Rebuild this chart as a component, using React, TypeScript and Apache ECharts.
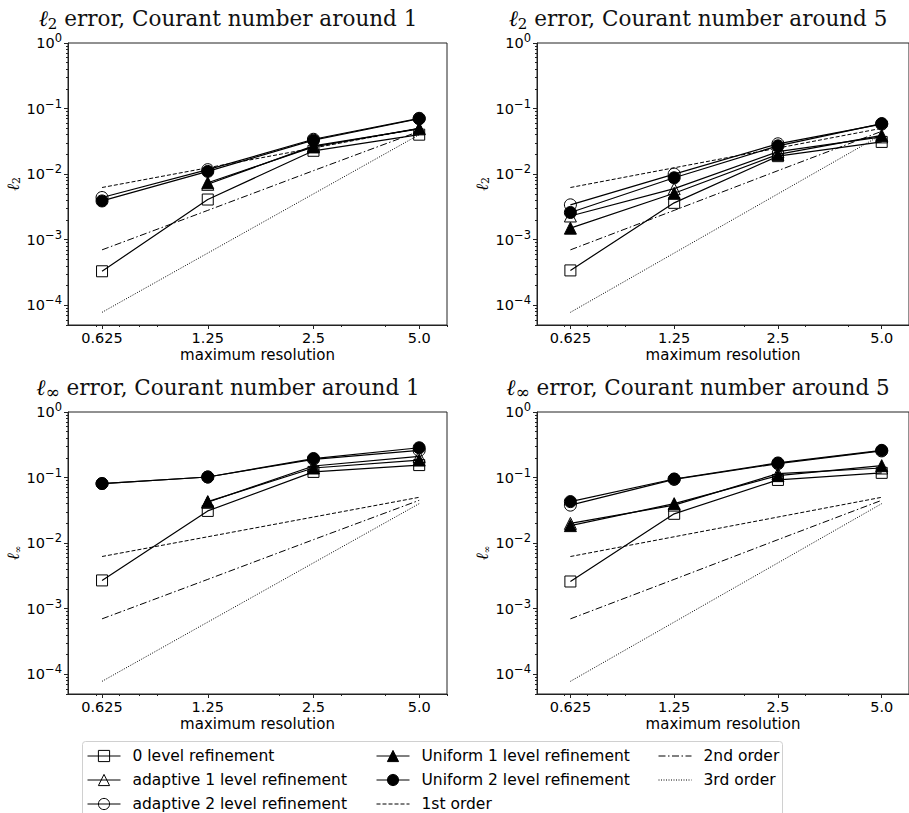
import React, { useEffect, useRef } from 'react';
import * as echarts from 'echarts';

// ---------- data ----------
const resolutions = [0.625, 1.25, 2.5, 5.0];
const xTickLabels = ['0.625', '1.25', '2.5', '5.0'];
const xMinorTicks = [0.6, 0.7, 0.8, 0.9, 2, 3, 4, 6];
const yTickValues = [1e-4, 1e-3, 1e-2, 1e-1, 1];
const yTickExponents = ['−4', '−3', '−2', '−1', '0'];

const methodNames = [
  '0 level refinement',
  'adaptive 1 level refinement',
  'adaptive 2 level refinement',
  'Uniform 1 level refinement',
  'Uniform 2 level refinement',
];
const refNames = ['1st order', '2nd order', '3rd order'];

// l2 error, Courant ~1
const l2C1Level0 = [3.3e-4, 4.1e-3, 0.0227, 0.040];
const l2C1Adapt1 = [null, 7.0e-3, 0.027, 0.049];
const l2C1Adapt2 = [4.4e-3, 1.17e-2, 0.034, 0.071];
const l2C1Unif1 = [null, 7.4e-3, 0.026, 0.050];
const l2C1Unif2 = [3.9e-3, 1.1e-2, 0.033, 0.070];

// l2 error, Courant ~5
const l2C5Level0 = [3.4e-4, 3.65e-3, 0.0188, 0.031];
const l2C5Adapt1 = [2.3e-3, 6.0e-3, 0.022, 0.037];
const l2C5Adapt2 = [3.4e-3, 1.0e-2, 0.029, 0.058];
const l2C5Unif1 = [1.5e-3, 5.1e-3, 0.020, 0.039];
const l2C5Unif2 = [2.6e-3, 8.8e-3, 0.027, 0.059];

// linf error, Courant ~1
const liC1Level0 = [2.7e-3, 0.031, 0.122, 0.155];
const liC1Adapt1 = [null, 0.042, 0.15, 0.21];
const liC1Adapt2 = [0.081, 0.102, 0.19, 0.26];
const liC1Unif1 = [null, 0.043, 0.14, 0.185];
const liC1Unif2 = [0.081, 0.102, 0.195, 0.285];

// linf error, Courant ~5
const liC5Level0 = [2.6e-3, 0.028, 0.092, 0.118];
const liC5Adapt1 = [0.020, 0.038, 0.115, 0.14];
const liC5Adapt2 = [0.038, 0.094, 0.163, 0.255];
const liC5Unif1 = [0.0185, 0.040, 0.107, 0.152];
const liC5Unif2 = [0.043, 0.095, 0.167, 0.26];

// reference slopes
const order1 = [0.00625, 0.0125, 0.025, 0.05];
const order2 = [0.0007, 0.0028, 0.0113, 0.045];
const order3 = [0.000078, 0.000625, 0.005, 0.04];

const panelData = [
  [l2C1Level0, l2C1Adapt1, l2C1Adapt2, l2C1Unif1, l2C1Unif2],
  [l2C5Level0, l2C5Adapt1, l2C5Adapt2, l2C5Unif1, l2C5Unif2],
  [liC1Level0, liC1Adapt1, liC1Adapt2, liC1Unif1, liC1Unif2],
  [liC5Level0, liC5Adapt1, liC5Adapt2, liC5Unif1, liC5Unif2],
];
const refData = [order1, order2, order3];

const panelNorm = ['2', '2', '∞', '∞'];
const panelTitleRest = [
  ' error, Courant number around 1',
  ' error, Courant number around 5',
  ' error, Courant number around 1',
  ' error, Courant number around 5',
];

// legend columns (matplotlib fills column by column)
const legendColumns = [
  [methodNames[0], methodNames[1], methodNames[2]],
  [methodNames[3], methodNames[4], refNames[0]],
  [refNames[1], refNames[2]],
];

// ---------- layout / style ----------
const grids = [
  { left: 68, top: 43, width: 379, height: 282 },
  { left: 537, top: 43, width: 380, height: 282 },
  { left: 68, top: 412, width: 379, height: 282 },
  { left: 537, top: 412, width: 380, height: 282 },
];
const titlePos = [
  [228, 18],
  [698, 18],
  [228, 387],
  [698, 387],
];
const legendLefts = [87, 376, 658];
const methodStyles = [
  { symbol: 'rect', size: 11, filled: false },
  { symbol: 'triangle', size: 12, filled: false },
  { symbol: 'circle', size: 12, filled: false },
  { symbol: 'triangle', size: 12, filled: true },
  { symbol: 'circle', size: 12, filled: true },
];
const refDash = [[4, 2], [7, 2.5, 1.5, 2.5], [1, 1.5]];

const yMinor: number[] = [];
for (let e = -5; e < 0; e++) {
  for (let m = 2; m <= 9; m++) {
    const v = m * Math.pow(10, e);
    if (v >= 5e-5 && v < 1) yMinor.push(v);
  }
}

const SPINE = '#222';
const SANS = 'DejaVu Sans';

function nearestIndex(v: number, values: number[]) {
  let best = 0;
  let bd = Infinity;
  values.forEach((x, i) => {
    const d = Math.abs(Math.log(x) - Math.log(v));
    if (d < bd) {
      bd = d;
      best = i;
    }
  });
  return best;
}

function buildOption() {
  const xAxis: any[] = [];
  const yAxis: any[] = [];
  const series: any[] = [];
  const graphic: any[] = [];

  grids.forEach((g, p) => {
    xAxis.push({
      type: 'log',
      logBase: 2,
      gridIndex: p,
      min: 0.5,
      max: 6,
      position: 'bottom',
      name: 'maximum resolution',
      nameLocation: 'middle',
      nameGap: 22,
      nameTextStyle: { fontFamily: SANS, fontSize: 15, color: '#000', verticalAlign: 'top', lineHeight: 15 },
      axisLine: { show: true, lineStyle: { color: SPINE, width: 1 } },
      axisTick: { show: true, inside: false, length: 4, customValues: resolutions, lineStyle: { color: SPINE } },
      axisLabel: {
        show: true,
        margin: 6,
        customValues: resolutions,
        fontFamily: SANS,
        fontSize: 14.5,
        lineHeight: 14,
        color: '#000',
        formatter: (v: number) => xTickLabels[nearestIndex(v, resolutions)],
      },
      splitLine: { show: false },
      minorTick: { show: false },
    });
    xAxis.push({
      type: 'log',
      logBase: 2,
      gridIndex: p,
      min: 0.5,
      max: 6,
      position: 'bottom',
      axisLine: { show: false },
      axisTick: { show: true, inside: false, length: 2, customValues: xMinorTicks, lineStyle: { color: SPINE } },
      axisLabel: { show: false },
      splitLine: { show: false },
    });
    yAxis.push({
      type: 'log',
      logBase: 10,
      gridIndex: p,
      min: 5e-5,
      max: 1,
      position: 'left',
      name: '{l|ℓ}{s|' + panelNorm[p] + '}',
      nameLocation: 'middle',
      nameGap: 46,
      nameRotate: 90,
      nameTextStyle: {
        color: '#000',
        rich: {
          l: { fontFamily: 'DejaVu Serif', fontStyle: 'italic', fontSize: 17, color: '#000', lineHeight: 18 },
          s: { fontFamily: 'DejaVu Serif', fontSize: panelNorm[p] === '2' ? 11 : 9, color: '#000', verticalAlign: 'bottom', lineHeight: 10 },
        },
      },
      axisLine: { show: true, lineStyle: { color: SPINE, width: 1 } },
      axisTick: { show: true, inside: false, length: 4, customValues: yTickValues, lineStyle: { color: SPINE } },
      axisLabel: {
        show: true,
        margin: 6,
        customValues: yTickValues,
        color: '#000',
        formatter: (v: number) => '{b|10}{s|' + yTickExponents[nearestIndex(v, yTickValues)] + '}',
        rich: {
          b: { fontFamily: SANS, fontSize: 14.5, color: '#000', lineHeight: 22 },
          s: { fontFamily: SANS, fontSize: 11.5, color: '#000', verticalAlign: 'top', lineHeight: 11 },
        },
      },
      splitLine: { show: false },
    });
    yAxis.push({
      type: 'log',
      logBase: 10,
      gridIndex: p,
      min: 5e-5,
      max: 1,
      position: 'left',
      axisLine: { show: false },
      axisTick: { show: true, inside: false, length: 2, customValues: yMinor, lineStyle: { color: SPINE } },
      axisLabel: { show: false },
      splitLine: { show: false },
    });

    panelData[p].forEach((arr, k) => {
      const st = methodStyles[k];
      const data = resolutions
        .map((h, i) => (arr[i] == null ? null : [h, arr[i]]))
        .filter((d) => d != null);
      series.push({
        type: 'line',
        name: methodNames[k],
        xAxisIndex: 2 * p,
        yAxisIndex: 2 * p,
        data,
        symbol: st.symbol,
        symbolSize: st.size,
        showAllSymbol: true,
        silent: true,
        emphasis: { disabled: true },
        lineStyle: { color: '#000', width: 1.2 },
        itemStyle: {
          color: st.filled ? '#000' : 'transparent',
          borderColor: '#000',
          borderWidth: 1,
        },
      });
    });
    refData.forEach((arr, k) => {
      series.push({
        type: 'line',
        name: refNames[k],
        xAxisIndex: 2 * p,
        yAxisIndex: 2 * p,
        data: resolutions.map((h, i) => [h, arr[i]]),
        symbol: 'none',
        silent: true,
        emphasis: { disabled: true },
        lineStyle: { color: '#000', width: 1, type: refDash[k] },
        itemStyle: { color: 'transparent', borderColor: 'transparent', borderWidth: 0 },
      });
    });

    graphic.push({
      type: 'text',
      x: titlePos[p][0],
      y: titlePos[p][1],
      silent: true,
      style: {
        text: '{l|ℓ}{s|' + panelNorm[p] + '}{t|' + panelTitleRest[p] + '}',
        align: 'center',
        verticalAlign: 'middle',
        rich: {
          l: { fontFamily: 'DejaVu Serif', fontStyle: 'italic', fontSize: 22, fill: '#000', lineHeight: 26 },
          s: { fontFamily: 'DejaVu Serif', fontSize: panelNorm[p] === '2' ? 15 : 17, fill: '#000', verticalAlign: 'bottom', lineHeight: 15 },
          t: { fontFamily: 'DejaVu Serif', fontSize: 21.5, fill: '#111', lineHeight: 26 },
        },
      },
    });
  });

  // legend frame
  graphic.push({
    type: 'rect',
    silent: true,
    z: -1,
    shape: { x: 82.5, y: 741.5, width: 700, height: 100, r: 3 },
    style: { fill: '#fff', stroke: '#d0d0d0', lineWidth: 1 },
  });

  const legend = legendColumns.map((col, c) => ({
    data: col,
    orient: 'vertical',
    left: legendLefts[c],
    top: 748,
    padding: 0,
    itemGap: 8,
    itemWidth: 33,
    itemHeight: 14,
    selectedMode: false,
    itemStyle: { borderWidth: 1 },
    lineStyle: { width: 1 },
    textStyle: { fontFamily: SANS, fontSize: 15.5, color: '#000', padding: [0, 0, 0, 7] },
  }));

  return {
    animation: false,
    backgroundColor: '#fff',
    grid: grids.map((g) => ({ ...g, show: true, borderColor: SPINE, borderWidth: 1, backgroundColor: 'transparent', containLabel: false })),
    xAxis,
    yAxis,
    series,
    graphic,
    legend,
  };
}

export default function App() {
  const ref = useRef<HTMLDivElement>(null);
  useEffect(() => {
    document.body.style.margin = '0';
    if (!ref.current) return;
    const chart = echarts.init(ref.current, undefined, { renderer: 'svg' });
    chart.setOption(buildOption() as any);
    return () => chart.dispose();
  }, []);
  return <div ref={ref} style={{ width: 909, height: 813 }} />;
}
